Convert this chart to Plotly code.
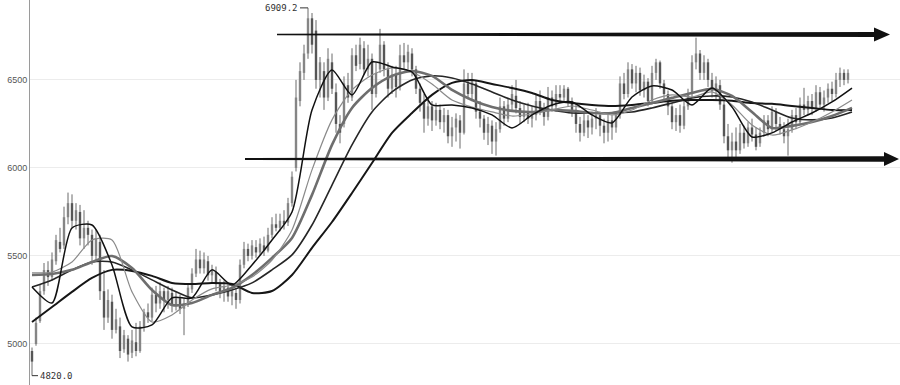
import plotly.graph_objects as go

# Daily OHLC bars (bar index 0..204)
opens = [4960,5000,5130,5300,5420,5380,5470,5580,5560,5720,5800,5700,5750,5600,5660,5620,5500,5580,5300,5150,
         5240,5080,5100,4970,5030,4950,5010,4960,5100,5180,5150,5280,5230,5300,5250,5290,5220,5260,5200,5230,
         5310,5400,5480,5430,5470,5390,5410,5340,5300,5320,5270,5290,5250,5450,5540,5500,5550,5520,5560,5530,
         5620,5680,5660,5700,5690,5800,6000,6380,6540,6650,6850,6780,6500,6550,6400,6600,6430,6250,6250,6470,
         6400,6640,6590,6680,6560,6620,6420,6560,6700,6560,6450,6530,6460,6640,6600,6650,6560,6450,6370,6280,
         6350,6270,6330,6260,6300,6180,6230,6270,6200,6480,6420,6480,6320,6280,6200,6240,6150,6220,6350,6280,
         6360,6410,6340,6290,6320,6280,6300,6380,6330,6290,6400,6350,6420,6400,6450,6380,6330,6250,6200,6270,
         6230,6280,6300,6240,6200,6270,6230,6300,6480,6420,6560,6480,6540,6440,6490,6380,6540,6600,6480,6420,
         6350,6260,6300,6240,6350,6420,6600,6650,6540,6600,6500,6440,6470,6360,6180,6100,6150,6100,6200,6140,
         6230,6190,6140,6200,6270,6220,6320,6250,6220,6180,6220,6300,6260,6360,6330,6380,6340,6430,6360,6400,
         6450,6420,6500,6540,6500]
highs = [4980,5150,5340,5460,5470,5520,5620,5660,5780,5860,5850,5800,5790,5760,5700,5650,5650,5620,5420,5310,
         5280,5200,5150,5080,5050,5080,5120,5130,5200,5230,5320,5330,5350,5320,5330,5320,5300,5280,5260,5340,
         5430,5540,5530,5520,5500,5450,5440,5370,5360,5350,5330,5320,5480,5580,5570,5590,5590,5600,5610,5660,
         5720,5740,5740,5760,5830,5980,6500,6600,6700,6909.2,6880,6840,6630,6600,6680,6650,6480,6300,6520,6540,
         6680,6700,6740,6720,6700,6650,6600,6790,6720,6600,6580,6580,6700,6710,6700,6680,6580,6480,6420,6400,
         6380,6370,6360,6340,6330,6290,6310,6300,6560,6540,6540,6500,6380,6300,6290,6270,6260,6400,6380,6400,
         6470,6500,6380,6360,6370,6350,6420,6440,6370,6460,6440,6470,6470,6470,6460,6400,6360,6290,6320,6300,
         6320,6340,6320,6280,6310,6300,6320,6520,6540,6600,6590,6580,6570,6530,6510,6580,6620,6610,6500,6440,
         6370,6340,6360,6380,6450,6640,6740,6670,6640,6620,6540,6520,6500,6380,6250,6200,6230,6250,6240,6260,
         6280,6230,6230,6300,6300,6350,6340,6290,6260,6280,6330,6340,6400,6455,6410,6420,6470,6460,6440,6480,
         6490,6540,6570,6560,6560]
lows = [4820,4990,5120,5280,5330,5360,5450,5520,5540,5680,5660,5650,5560,5540,5560,5450,5470,5250,5080,5120,
        5030,5060,4920,4950,4900,4920,4930,4950,5070,5120,5130,5180,5200,5180,5200,5180,5190,5170,5050,5210,
        5290,5380,5400,5400,5360,5350,5300,5260,5240,5240,5220,5200,5230,5430,5470,5480,5490,5500,5500,5520,
        5600,5640,5640,5650,5670,5780,5980,6350,6500,6620,6650,6450,6400,6330,6380,6420,6200,6140,6230,6370,
        6380,6550,6560,6530,6520,6330,6400,6540,6520,6400,6420,6400,6440,6560,6560,6520,6420,6320,6200,6240,
        6210,6240,6220,6200,6140,6120,6150,6110,6190,6390,6380,6280,6230,6160,6130,6080,6070,6200,6240,6260,
        6320,6310,6250,6260,6250,6230,6270,6300,6240,6270,6320,6320,6370,6380,6350,6290,6200,6150,6180,6170,
        6190,6220,6180,6140,6150,6160,6200,6280,6390,6400,6450,6430,6410,6400,6350,6360,6500,6450,6380,6300,
        6220,6210,6200,6220,6330,6400,6560,6500,6500,6460,6400,6380,6330,6140,6050,6030,6060,6080,6110,6120,
        6150,6100,6120,6180,6180,6200,6210,6190,6140,6070,6200,6220,6250,6300,6300,6300,6320,6330,6320,6370,
        6380,6400,6460,6470,6480]
closes = [4900,5120,5300,5420,5380,5480,5590,5540,5720,5800,5700,5760,5600,5660,5620,5500,5600,5300,5150,5250,
          5080,5140,4960,5050,4940,5020,4960,5100,5180,5150,5280,5230,5300,5250,5300,5220,5260,5200,5230,5320,
          5400,5480,5430,5480,5390,5420,5340,5300,5330,5270,5300,5250,5450,5540,5500,5560,5520,5570,5530,5620,
          5680,5660,5700,5680,5800,5950,6400,6550,6650,6850,6700,6500,6600,6400,6620,6450,6250,6200,6480,6400,
          6640,6580,6700,6560,6620,6420,6540,6700,6560,6450,6530,6460,6640,6600,6660,6560,6450,6370,6280,6350,
          6270,6330,6260,6300,6180,6230,6280,6200,6480,6420,6500,6320,6280,6200,6250,6150,6220,6350,6280,6360,
          6420,6340,6290,6320,6280,6300,6380,6330,6290,6400,6350,6420,6400,6450,6380,6330,6250,6200,6270,6230,
          6280,6300,6240,6200,6270,6230,6300,6480,6420,6560,6480,6540,6440,6490,6380,6540,6600,6480,6420,6350,
          6260,6300,6240,6350,6420,6600,6650,6540,6600,6500,6440,6480,6360,6180,6100,6150,6100,6200,6140,6230,
          6190,6120,6200,6270,6220,6320,6250,6220,6180,6220,6300,6260,6360,6330,6380,6340,6430,6360,6400,6450,
          6420,6500,6540,6500,6540]

# Moving-average readings, one every five bars
ma_bars = list(range(0, 206, 5))
ma5 = [5324,5233,5659,5676,5449,5097,5108,5262,5262,5421,5335,5449,5591,5750,6329,6557,6415,6602,6574,6545,
       6358,6358,6341,6301,6227,6301,6358,6375,6301,6256,6403,6466,6443,6358,6454,6346,6176,6199,6261,6312,
       6375,6454]
ma10 = [5404,5409,5466,5591,5591,5296,5125,5165,5250,5313,5335,5381,5477,5648,5989,6273,6443,6528,6568,6545,
        6477,6386,6346,6318,6295,6307,6329,6352,6329,6301,6329,6386,6415,6403,6432,6358,6244,6187,6216,6261,
        6318,6386]
ma20 = [5392,5398,5421,5466,5500,5432,5307,5222,5233,5279,5318,5392,5489,5602,5847,6131,6341,6454,6523,6551,
        6523,6443,6386,6346,6324,6318,6329,6324,6312,6312,6341,6369,6398,6426,6449,6409,6318,6227,6239,6261,
        6295,6341]
ma30 = [5324,5364,5421,5466,5466,5421,5364,5307,5262,5279,5307,5347,5421,5506,5676,5903,6131,6318,6432,6500,
        6523,6511,6477,6432,6386,6352,6329,6312,6312,6312,6318,6341,6369,6398,6409,6403,6375,6329,6284,6273,
        6284,6318]
ma60 = [5125,5210,5296,5375,5421,5415,5387,5347,5341,5347,5341,5290,5301,5392,5546,5693,5858,6028,6199,6312,
        6415,6483,6500,6477,6454,6426,6386,6369,6358,6352,6358,6369,6381,6386,6386,6381,6369,6364,6352,6341,
        6329,6329]

# Horizontal levels marked with arrows
resistance = 6758
support = 6051
peak_label = "6909.2"
trough_label = "4820.0"

bars = list(range(len(closes)))


def segments(idx, lo, hi):
    xs, ys = [], []
    for i in idx:
        xs += [bars[i], bars[i], None]
        ys += [lo[i], hi[i], None]
    return xs, ys


fig = go.Figure()

# Wicks (thin) and bodies (slightly thicker strokes) for rising and falling bars
rising = [i for i in bars if closes[i] >= opens[i]]
falling = [i for i in bars if closes[i] < opens[i]]
body_lo = [min(o, c) for o, c in zip(opens, closes)]
body_hi = [max(o, c) for o, c in zip(opens, closes)]

wx, wy = segments(bars, lows, highs)
fig.add_trace(go.Scatter(x=wx, y=wy, mode="lines", line=dict(color="#6a6a6a", width=1),
                         hoverinfo="skip", showlegend=False))
for idx, color in ((rising, "#858585"), (falling, "#565656")):
    bx, by = segments(idx, body_lo, body_hi)
    fig.add_trace(go.Scatter(x=bx, y=by, mode="lines", line=dict(color=color, width=2.4),
                             hoverinfo="skip", showlegend=False))

ma_styles = [
    (ma60, "#161616", 2.0),
    (ma30, "#262626", 1.6),
    (ma20, "#6e6e6e", 2.6),
    (ma10, "#8a8a8a", 1.2),
    (ma5, "#111111", 1.5),
]
for vals, color, w in ma_styles:
    fig.add_trace(go.Scatter(
        x=ma_bars, y=vals, mode="lines",
        line=dict(color=color, width=w, shape="spline", smoothing=0.7),
        hoverinfo="skip", showlegend=False,
    ))

# Tapered arrows: thin tail, thicker body, triangular head
px_per_bar = 4.0
units_per_px = 5.68


def arrow_path(x0_px, x1_px, tip_px, yc, t0, t1, head):
    x0 = (x0_px - 32) / px_per_bar
    x1 = (x1_px - 32) / px_per_bar
    xt = (tip_px - 32) / px_per_bar
    a0 = t0 / 2 * units_per_px
    a1 = t1 / 2 * units_per_px
    h = head * units_per_px
    return (f"M {x0},{yc + a0} L {x1},{yc + a1} L {x1},{yc + h} L {xt},{yc} "
            f"L {x1},{yc - h} L {x1},{yc - a1} L {x0},{yc - a0} Z")


shapes = [
    dict(type="path", xref="x", yref="y", path=arrow_path(277, 874, 890, resistance, 1.6, 5.0, 7.0),
         fillcolor="#111111", line=dict(width=0)),
    dict(type="path", xref="x", yref="y", path=arrow_path(245, 884, 899, support, 2.0, 5.5, 7.0),
         fillcolor="#111111", line=dict(width=0)),
]

peak_i = highs.index(max(highs))
low_i = lows.index(min(lows))
annotations = [
    dict(x=peak_i, y=max(highs), xref="x", yref="y", text=peak_label, showarrow=True,
         arrowhead=0, arrowwidth=1, arrowcolor="#333", ax=-8, ay=0, xanchor="right",
         font=dict(family="DejaVu Sans Mono", size=9, color="#333")),
    dict(x=low_i, y=min(lows), xref="x", yref="y", text=trough_label, showarrow=True,
         arrowhead=0, arrowwidth=1, arrowcolor="#333", ax=6, ay=0, xanchor="left",
         font=dict(family="DejaVu Sans Mono", size=9, color="#333")),
]

fig.update_layout(
    width=900, height=385,
    margin=dict(l=30, r=0, t=0, b=0),
    paper_bgcolor="white", plot_bgcolor="white",
    shapes=shapes, annotations=annotations,
    xaxis=dict(range=[-0.5, 217], visible=False),
    yaxis=dict(range=[4767, 6954], tickvals=[5000, 5500, 6000, 6500],
               ticktext=["5000", "5500", "6000", "6500"],
               showgrid=True, gridcolor="#ececec", gridwidth=1,
               showline=True, linecolor="#9a9a9a", linewidth=1,
               ticks="", zeroline=False,
               tickfont=dict(family="Liberation Sans", size=9, color="#555")),
)

fig.write_html("out.html")
